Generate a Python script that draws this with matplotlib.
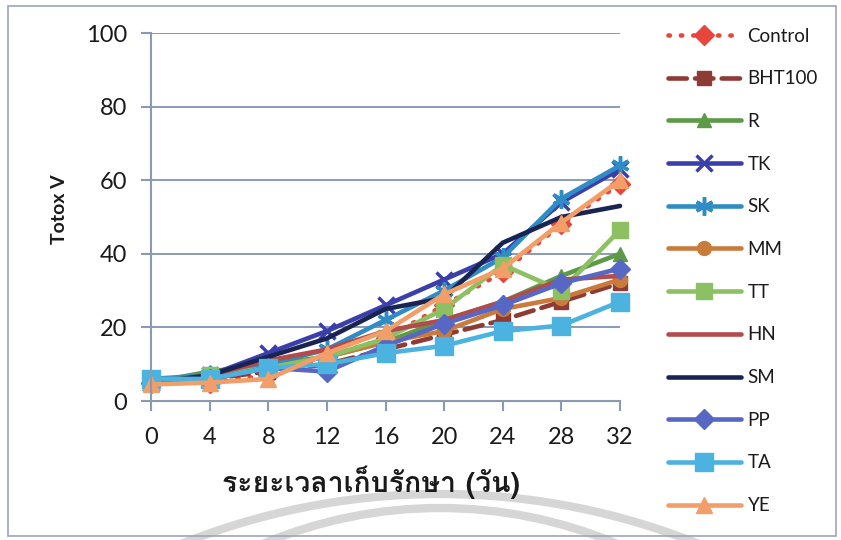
import matplotlib
matplotlib.use("Agg")
import matplotlib.pyplot as plt
from matplotlib import font_manager
from matplotlib.ft2font import FT2Font
from matplotlib.patches import Rectangle, Arc

# Storage time (days) and Totox values per treatment
days = [0, 4, 8, 12, 16, 20, 24, 28, 32]
series_names = ["Control", "BHT100", "R", "TK", "SK", "MM", "TT", "HN", "SM", "PP", "TA", "YE"]
control = [5.0, 5.0, 7.0, 12.0, 17.0, 26.0, 35.0, 48.0, 59.0]
bht100 = [5.0, 6.0, 8.0, 10.0, 14.0, 18.0, 22.0, 27.0, 32.0]
r_vals = [5.0, 8.0, 10.0, 12.0, 16.0, 22.0, 27.0, 34.0, 40.0]
tk = [5.0, 7.0, 13.0, 19.0, 26.0, 33.0, 40.0, 54.0, 63.0]
sk = [6.0, 7.0, 10.0, 14.0, 22.0, 30.0, 39.0, 55.0, 64.0]
mm = [5.0, 6.0, 9.0, 12.0, 16.0, 19.0, 25.0, 28.0, 33.0]
tt = [5.0, 7.0, 9.0, 12.0, 17.0, 25.0, 37.0, 30.0, 46.5]
hn = [5.0, 7.0, 11.0, 14.0, 19.0, 22.0, 27.0, 33.0, 34.0]
sm = [5.0, 7.0, 12.0, 17.0, 25.0, 28.0, 43.0, 50.0, 53.0]
pp = [5.0, 6.0, 9.0, 8.0, 15.0, 21.0, 26.0, 32.0, 36.0]
ta = [6.0, 6.0, 9.0, 10.0, 13.0, 15.0, 19.0, 20.5, 27.0]
ye = [4.5, 5.0, 6.0, 13.0, 19.0, 29.0, 36.0, 48.5, 60.0]
values = [control, bht100, r_vals, tk, sk, mm, tt, hn, sm, pp, ta, ye]

x_ticks = [0, 4, 8, 12, 16, 20, 24, 28, 32]
y_ticks = [0, 20, 40, 60, 80, 100]
x_label = "ระยะเวลาเก็บรักษา (วัน)"
y_label = "Totox V"

# Line style for each series: colour, marker, linestyle
styles = {
    "Control": dict(color="#E8453C", marker="D", ls=(0, (0.3, 2.4)), ms=10),
    "BHT100": dict(color="#8E3B36", marker="s", ls=(0, (4.0, 1.8)), ms=10),
    "R": dict(color="#5C9A48", marker="^", ls="-", ms=10),
    "TK": dict(color="#3B3FAA", marker="x", ls="-", ms=11),
    "SK": dict(color="#2F8CC4", marker=(6, 2, 0), ls="-", ms=13),
    "MM": dict(color="#C97B3C", marker="o", ls="-", ms=10),
    "TT": dict(color="#8CC063", marker="s", ls="-", ms=12),
    "HN": dict(color="#B54A4A", marker=None, ls="-", ms=0),
    "SM": dict(color="#1A2452", marker=None, ls="-", ms=0),
    "PP": dict(color="#5667C4", marker="D", ls="-", ms=10),
    "TA": dict(color="#4CB2DF", marker="s", ls="-", ms=13),
    "YE": dict(color="#F29E68", marker="^", ls="-", ms=12),
}


def thai_family():
    for f in font_manager.fontManager.ttflist:
        try:
            if 0x0E23 in FT2Font(f.fname).get_charmap():
                return f.name
        except Exception:
            continue
    return "DejaVu Sans"


thai = thai_family()
plt.rcParams["font.family"] = ["Lato", "DejaVu Sans"]

W, H = 841, 540
fig = plt.figure(figsize=(W / 100, H / 100), dpi=100)
fig.patch.set_facecolor("white")

# faint background arcs near the bottom edge (pixel coordinates)
bg = fig.add_axes([0, 0, 1, 1], zorder=-5)
bg.set_xlim(0, W)
bg.set_ylim(H, 0)
bg.axis("off")
for cx, cy, rad in [(440, 1190, 696), (440, 964, 456)]:
    bg.add_patch(Arc((cx, cy), 2 * rad, 2 * rad, theta1=180, theta2=360,
                     color="#d6d6d6", linewidth=6))

# thin frame around the whole chart
fig.patches.append(Rectangle((8 / W, 1 - 536 / H), (836 - 8) / W, (536 - 6) / H,
                             transform=fig.transFigure, fill=False,
                             edgecolor="#9AA6B8", linewidth=1.2))

ax = fig.add_axes([151 / W, 1 - 401 / H, (620 - 151) / W, (401 - 33) / H])
ax.patch.set_alpha(0)

for name, vals in zip(series_names, values):
    st = styles[name]
    mk = st["marker"]
    ax.plot(days, vals, color=st["color"], linestyle=st["ls"], linewidth=3.3,
            marker=mk, markersize=st["ms"],
            markeredgewidth=2.5 if mk in ("x", (6, 2, 0)) else 1.0,
            markeredgecolor=st["color"], markerfacecolor=st["color"],
            dash_capstyle="round", solid_capstyle="round",
            clip_on=False, label=name)

ax.set_xlim(0, 32)
ax.set_ylim(0, 100)
ax.set_xticks(x_ticks)
ax.set_yticks(y_ticks)
axis_col = "#8A9AB5"
grid_col = "#7F93B2"
ax.yaxis.grid(True, color=grid_col, linewidth=1.3)
ax.set_axisbelow(True)
for side in ("top", "right"):
    ax.spines[side].set_visible(False)
for side in ("left", "bottom"):
    ax.spines[side].set_color(axis_col)
    ax.spines[side].set_linewidth(1.5)
ax.tick_params(axis="both", colors=axis_col, width=1.5, length=7,
               labelcolor="#1a1a1a", labelsize=17)
ax.tick_params(axis="y", pad=10)
ax.tick_params(axis="x", pad=12)
ax.set_ylabel(y_label, fontsize=14, fontweight="bold", color="#1a1a1a")
ax.yaxis.set_label_coords(-0.178, 0.52)
ax.set_xlabel(x_label, fontsize=20.5, fontweight="bold", family=[thai, "DejaVu Sans"],
              color="#1a1a1a")
ax.xaxis.set_label_coords(0.47, -0.174)

leg = ax.legend(loc="upper left", bbox_to_anchor=(1.086, 1.035), frameon=False,
                fontsize=13.5, handlelength=3.9, handletextpad=0.35,
                labelspacing=1.37, borderaxespad=0)
for t in leg.get_texts():
    t.set_color("#1a1a1a")

fig.savefig("out.png", dpi=100, facecolor="white")
